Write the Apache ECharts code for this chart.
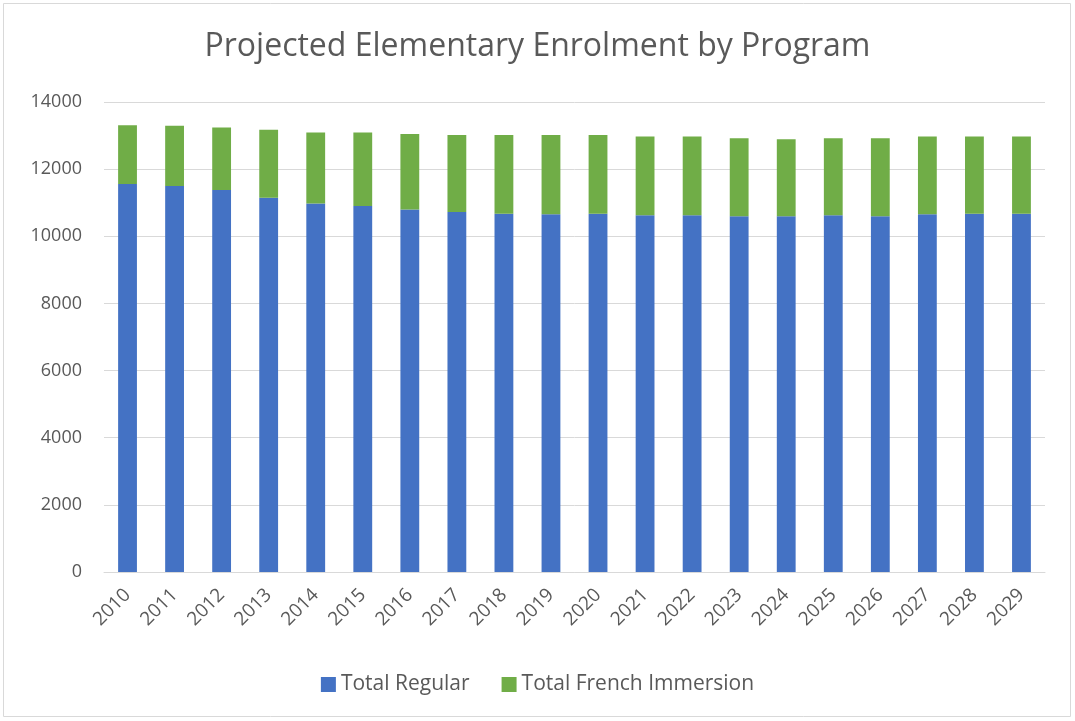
<!DOCTYPE html>
<html>
<head>
<meta charset="utf-8">
<script src="https://cdn.jsdelivr.net/npm/echarts@6/dist/echarts.min.js"></script>
<style>
  html, body { margin: 0; padding: 0; background: #fff; }
  #main { width: 1075px; height: 721px; }
</style>
</head>
<body>
<div id="main"></div>
<script>
// data
var years = ['2010','2011','2012','2013','2014','2015','2016','2017','2018','2019',
             '2020','2021','2022','2023','2024','2025','2026','2027','2028','2029'];
var regular = [11560, 11500, 11380, 11150, 10980, 10900, 10800, 10720, 10670, 10660,
               10670, 10630, 10630, 10600, 10600, 10630, 10600, 10660, 10670, 10670];
var french = [1750, 1790, 1860, 2020, 2110, 2190, 2250, 2300, 2350, 2360,
              2350, 2340, 2340, 2320, 2290, 2290, 2320, 2310, 2300, 2300];
var yTicks = [0, 2000, 4000, 6000, 8000, 10000, 12000, 14000];

var font = '"Open Sans", "Noto Sans", sans-serif';
var myChart = echarts.init(document.getElementById('main'));

myChart.setOption({
    animation: false,
    textStyle: { fontFamily: font },
    graphic: [{
        type: 'rect',
        shape: { x: 3.5, y: 3.5, width: 1067, height: 713 },
        style: { fill: 'none', stroke: '#d9d9d9', lineWidth: 1 },
        silent: true
    }],
    title: {
        text: 'Projected Elementary Enrolment by Program',
        left: 'center',
        top: 26,
        textStyle: { fontFamily: font, fontSize: 32, fontWeight: 'normal', color: '#595959' }
    },
    legend: {
        bottom: 21,
        left: 'center',
        itemWidth: 15,
        itemHeight: 15,
        itemGap: 32,
        icon: 'rect',
        textStyle: { fontFamily: font, fontSize: 21, color: '#595959' },
        data: ['Total Regular', 'Total French Immersion']
    },
    grid: { left: 104, right: 30, top: 102, bottom: 149 },
    xAxis: {
        type: 'category',
        data: years,
        axisLine: { lineStyle: { color: '#d9d9d9' } },
        axisTick: { show: false },
        axisLabel: { rotate: 45, fontSize: 19, color: '#595959', fontFamily: font, margin: 20 }
    },
    yAxis: {
        type: 'value',
        min: yTicks[0],
        max: yTicks[yTicks.length - 1],
        interval: 2000,
        axisLine: { show: false },
        axisTick: { show: false },
        splitLine: { lineStyle: { color: '#d9d9d9' } },
        axisLabel: {
            fontSize: 18, color: '#595959', fontFamily: font, margin: 22,
            formatter: function (v) { return String(v); }
        }
    },
    series: [
        {
            name: 'Total Regular',
            type: 'bar',
            stack: 'total',
            barWidth: '40%',
            itemStyle: { color: '#4472C4' },
            data: regular
        },
        {
            name: 'Total French Immersion',
            type: 'bar',
            stack: 'total',
            barWidth: '40%',
            itemStyle: { color: '#70AD47' },
            data: french
        }
    ]
});
</script>
</body>
</html>
